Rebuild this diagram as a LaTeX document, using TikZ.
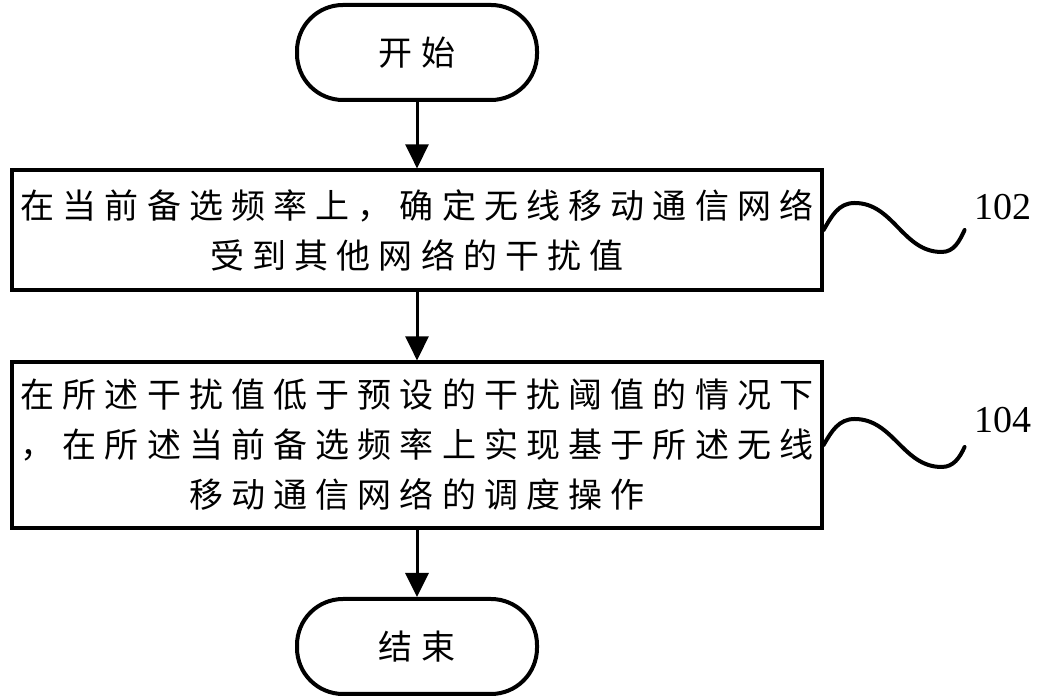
\documentclass[tikz,border=0pt]{standalone}
\usepackage{fontspec}
\setmainfont{Liberation Serif}
\newfontfamily\cjk[LetterSpace=24]{Noto Sans CJK SC}
\usetikzlibrary{shapes,arrows.meta}

\begin{document}
\begin{tikzpicture}[x=0.5pt, y=0.5pt]
		\tikzstyle {terminal} = [draw, line width=2pt, rectangle, rounded corners=23pt, minimum width=120pt, minimum height=47.5pt, font=\cjk\fontsize{17}{25}\selectfont]
		\tikzstyle {process} = [draw, line width=1.6pt, rectangle, minimum width=405pt, align=center, font=\cjk\fontsize{17}{25}\selectfont]
		\tikzstyle {flow} = [line width=1.5pt, -{Triangle[length=12pt, width=11.5pt]}]
		\tikzstyle {wave} = [line width=2pt, line cap=round]
		\tikzstyle {ref} = [font=\fontsize{19}{19}\selectfont]

		\useasboundingbox (0,0) rectangle (1049,700);

		\node[terminal] (start) at (417, 647.5) {开始};
		\node[process, minimum height=60pt] (step1) at (417, 470) {在当前备选频率上，确定无线移动通信网络\\受到其他网络的干扰值};
		\node[process, minimum height=83pt] (step2) at (417, 255) {在所述干扰值低于预设的干扰阈值的情况下\\，在所述当前备选频率上实现基于所述无线\\移动通信网络的调度操作};
		\node[terminal] (stop) at (417, 53.5) {结束};

		\draw[flow] (start) -- (step1);
		\draw[flow] (step1) -- (step2);
		\draw[flow] (step2) -- (stop);

		% reference numerals
		\draw[wave] (step1.east) to[out=60, in=180] ++(31, 27) to[out=0, in=180] ++(87, -49) to[out=0, in=245] ++(23, 22);
		\node[ref] (lab102) at (1003, 493) {102};

		\draw[wave] (step2.east) to[out=60, in=180] ++(31, 26) to[out=0, in=180] ++(87, -48) to[out=0, in=245] ++(23, 20);
		\node[ref] (lab104) at (1003, 280) {104};

	\end{tikzpicture}
\end{document}
